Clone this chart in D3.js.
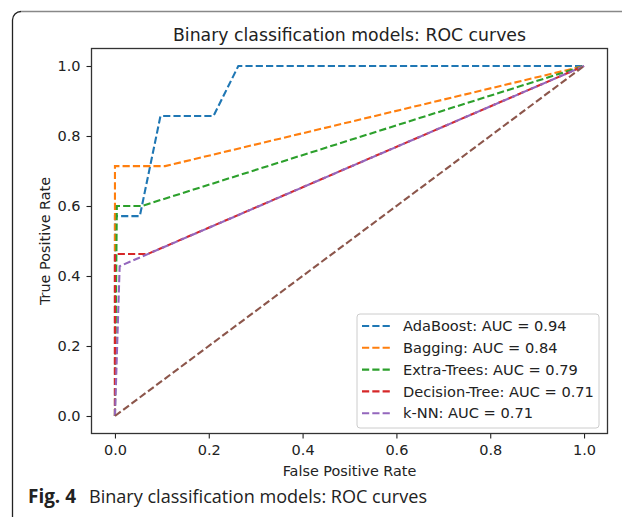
<!DOCTYPE html>
<html>
<head>
<meta charset="utf-8">
<script src="https://cdn.jsdelivr.net/npm/d3@7"></script>
<style>
  body { margin: 0; background: #fff; }
  svg { display: block; }
</style>
</head>
<body>
<div id="chart"></div>
<script>
// ROC curve data
const modelNames = ["AdaBoost", "Bagging", "Extra-Trees", "Decision-Tree", "k-NN"];
const aucValues = [0.94, 0.84, 0.79, 0.71, 0.71];

const fprAdaBoost = [0, 0, 0.053, 0.097, 0.21, 0.263, 1];
const tprAdaBoost = [0, 0.571, 0.571, 0.857, 0.857, 1, 1];

const fprBagging = [0, 0, 0.107, 1];
const tprBagging = [0, 0.714, 0.714, 1];

const fprExtraTrees = [0, 0.004, 0.057, 1];
const tprExtraTrees = [0, 0.6, 0.6, 1];

const fprDecisionTree = [0, 0, 0.07, 1];
const tprDecisionTree = [0, 0.463, 0.463, 1];

const fprKnn = [0, 0.01, 1];
const tprKnn = [0, 0.428, 1];

const fprChance = [0, 1];
const tprChance = [0, 1];

const xTicks = [0, 0.2, 0.4, 0.6, 0.8, 1.0];
const yTicks = [0, 0.2, 0.4, 0.6, 0.8, 1.0];

const colors = ["#1f77b4", "#ff7f0e", "#2ca02c", "#d62728", "#9467bd", "#8c564b"];

const W = 622, H = 517;
const margin = {top: 48.5, right: 14.5, bottom: 83.5, left: 91.5};
const width = W - margin.left - margin.right;
const height = H - margin.top - margin.bottom;

const svg = d3.select("#chart").append("svg")
    .attr("width", W)
    .attr("height", H);

// figure frame (cropped box from the paper)
svg.append("path")
    .attr("d", "M12.5,530 L12.5,20 A8.5,8.5 0 0 1 21,11.5")
    .attr("fill", "none")
    .attr("stroke", "#222")
    .attr("stroke-width", 1.3);
svg.append("path")
    .attr("d", "M21,11.5 L640,11.5")
    .attr("fill", "none")
    .attr("stroke", "#888")
    .attr("stroke-width", 1.3);

const g = svg.append("g")
    .attr("transform", `translate(${margin.left},${margin.top})`);

const x = d3.scaleLinear().domain([-0.05, 1.05]).range([0, width]);
const y = d3.scaleLinear().domain([-0.05, 1.05]).range([height, 0]);

const curves = [
    [fprAdaBoost, tprAdaBoost],
    [fprBagging, tprBagging],
    [fprExtraTrees, tprExtraTrees],
    [fprDecisionTree, tprDecisionTree],
    [fprKnn, tprKnn],
    [fprChance, tprChance]
];

const line = d3.line()
    .x(d => x(d[0]))
    .y(d => y(d[1]));

const dash = "7.2,3.1";

g.selectAll(".roc")
    .data(curves)
    .enter()
    .append("path")
    .attr("class", "roc")
    .attr("d", d => line(d3.zip(d[0], d[1])))
    .attr("fill", "none")
    .attr("stroke", (d, i) => colors[i])
    .attr("stroke-width", 2.1)
    .attr("stroke-dasharray", dash);

// axes
const xAxis = g.append("g")
    .attr("transform", `translate(0,${height})`)
    .call(d3.axisBottom(x).tickValues(xTicks).tickFormat(d3.format(".1f")).tickSize(5).tickPadding(6));

const yAxis = g.append("g")
    .call(d3.axisLeft(y).tickValues(yTicks).tickFormat(d3.format(".1f")).tickSize(5).tickPadding(6));

[xAxis, yAxis].forEach(a => {
    a.select(".domain").remove();
    a.selectAll("line").attr("stroke", "#222").attr("stroke-width", 1.1);
    a.selectAll("text")
        .attr("font-family", "DejaVu Sans")
        .attr("font-size", 14.5)
        .attr("fill", "#222");
});

// spines
g.append("rect")
    .attr("width", width)
    .attr("height", height)
    .attr("fill", "none")
    .attr("stroke", "#333")
    .attr("stroke-width", 1.3);

// labels
svg.append("text")
    .attr("x", margin.left + width / 2)
    .attr("y", 41)
    .attr("text-anchor", "middle")
    .attr("font-family", "DejaVu Sans")
    .attr("font-size", 17.3)
    .attr("fill", "#222")
    .text("Binary classification models: ROC curves");

svg.append("text")
    .attr("x", margin.left + width / 2)
    .attr("y", 476)
    .attr("text-anchor", "middle")
    .attr("font-family", "DejaVu Sans")
    .attr("font-size", 14.4)
    .attr("fill", "#222")
    .text("False Positive Rate");

svg.append("text")
    .attr("transform", `translate(50,${margin.top + height / 2}) rotate(-90)`)
    .attr("text-anchor", "middle")
    .attr("font-family", "DejaVu Sans")
    .attr("font-size", 14.4)
    .attr("fill", "#222")
    .text("True Positive Rate");

// legend
const legend = svg.append("g").attr("transform", "translate(357,314)");
legend.append("rect")
    .attr("width", 242)
    .attr("height", 114)
    .attr("rx", 3)
    .attr("fill", "#fff")
    .attr("fill-opacity", 0.8)
    .attr("stroke", "#ccc")
    .attr("stroke-width", 1);

const items = legend.selectAll(".item")
    .data(modelNames)
    .enter()
    .append("g")
    .attr("class", "item")
    .attr("transform", (d, i) => `translate(0,${12 + i * 21.8})`);

items.append("line")
    .attr("x1", 5).attr("x2", 33)
    .attr("stroke", (d, i) => colors[i])
    .attr("stroke-width", 2.1)
    .attr("stroke-dasharray", dash);

items.append("text")
    .attr("x", 46)
    .attr("dy", "0.35em")
    .attr("font-family", "DejaVu Sans")
    .attr("font-size", 14.6)
    .attr("fill", "#222")
    .text((d, i) => `${d}: AUC = ${aucValues[i].toFixed(2)}`);

// figure caption
const cap = svg.append("text")
    .attr("x", 28)
    .attr("y", 503)
    .attr("font-family", "Open Sans")
    .attr("font-size", 19)
    .attr("fill", "#222");
cap.append("tspan")
    .attr("font-weight", "bold")
    .attr("textLength", 48)
    .attr("lengthAdjust", "spacingAndGlyphs")
    .text("Fig. 4");
cap.append("tspan")
    .attr("x", 89)
    .attr("textLength", 338)
    .attr("lengthAdjust", "spacingAndGlyphs")
    .text("Binary classification models: ROC curves");
</script>
</body>
</html>
